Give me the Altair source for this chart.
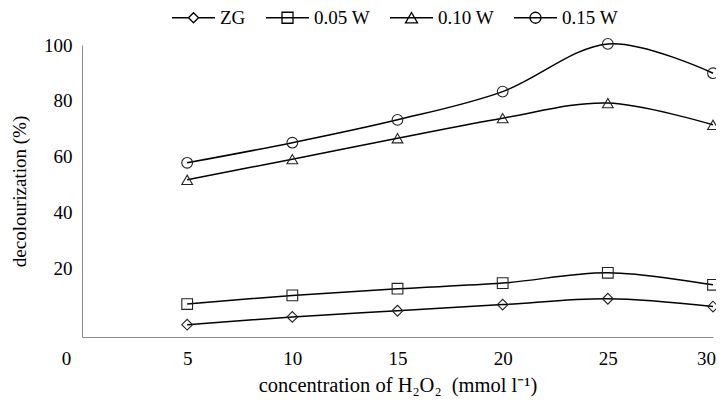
import altair as alt
import pandas as pd

conc = [5, 10, 15, 20, 25, 30]
series_names = ["ZG", "0.05 W", "0.10 W", "0.15 W"]
zg = [-0.2, 2.6, 4.8, 7.0, 9.1, 6.3]
w005 = [7.2, 10.3, 12.7, 14.7, 18.4, 14.1]
w010 = [51.7, 59.1, 66.6, 73.8, 79.2, 71.4]
w015 = [57.8, 65.0, 73.2, 83.3, 100.4, 89.9]
x_ticks = [0, 5, 10, 15, 20, 25, 30]
y_ticks = [20, 40, 60, 80, 100]

marker_shapes = ["diamond", "square", "triangle-up", "circle"]
legend_shapes = [
    "M-1,0L-0.233,0M0.233,0L1,0M-0.233,0L0,-0.233L0.233,0L0,0.233Z",
    "M-1,0L1,0M-0.256,-0.256L0.256,-0.256L0.256,0.256L-0.256,0.256Z",
    "M-1,0L1,0M0,-0.242L0.279,0.242L-0.279,0.242Z",
    "M-1,0L1,0M0.256,0A0.256,0.256,0,1,1,-0.256,0A0.256,0.256,0,1,1,0.256,0Z",
]

rows = []
for name, vals in zip(series_names, [zg, w005, w010, w015]):
    for c, v in zip(conc, vals):
        rows.append({"series": name, "conc": c, "value": v})
df = pd.DataFrame(rows)

FONT = "Liberation Serif"
AX = "#8c8c8c"

x_enc = alt.X(
    "conc:Q",
    scale=alt.Scale(domain=[0, 30], nice=False),
    axis=alt.Axis(
        values=x_ticks,
        title="concentration of H₂O₂\u00a0\u00a0(mmol l⁻¹)",
        grid=False,
        ticks=False,
        tickSize=0,
        domainColor=AX,
        domainWidth=1,
        labelFont=FONT,
        labelFontSize=19,
        labelColor="black",
        labelPadding=12,
        labelFlush=False,
        labelOverlap=False,
        labelOffset={
            "condition": [
                {"test": "datum.value === 0", "value": -16},
                {"test": "datum.value === 30", "value": -7},
            ],
            "value": 0,
        },
        titleFont=FONT,
        titleFontSize=20.5,
        titleFontWeight="normal",
        titleColor="black",
        titlePadding=7,
    ),
)
y_enc = alt.Y(
    "value:Q",
    scale=alt.Scale(domain=[-4.6, 100], nice=False, zero=False),
    axis=alt.Axis(
        values=y_ticks,
        title="decolourization (%)",
        grid=False,
        ticks=False,
        tickSize=0,
        domainColor=AX,
        domainWidth=1,
        labelFont=FONT,
        labelFontSize=19,
        labelColor="black",
        labelPadding=10,
        labelFlush=False,
        titleFont=FONT,
        titleFontSize=19,
        titleFontWeight="normal",
        titleColor="black",
        titlePadding=14,
    ),
)

base = alt.Chart(df)

lines = base.mark_line(interpolate="cardinal", color="black", strokeWidth=1.5).encode(
    x=x_enc, y=y_enc, detail="series:N", order="conc:Q"
)

points = base.mark_point(filled=False, color="#222222", strokeWidth=1.1, size=115, opacity=1).encode(
    x="conc:Q",
    y="value:Q",
    shape=alt.Shape("series:N", scale=alt.Scale(domain=series_names, range=marker_shapes), legend=None),
)

legend_layer = base.mark_point(filled=False, color="black", size=0).encode(
    x="conc:Q",
    y="value:Q",
    shape=alt.Shape(
        "series:N",
        scale=alt.Scale(domain=series_names, range=legend_shapes),
        legend=alt.Legend(
            title=None,
            orient="none",
            legendX=89,
            legendY=-50,
            direction="horizontal",
            columns=4,
            symbolSize=1849,
            symbolStrokeWidth=1.3,
            symbolStrokeColor="black",
            symbolFillColor="transparent",
            symbolOpacity=1,
            labelFont=FONT,
            labelFontSize=19,
            labelColor="black",
            labelOffset=4,
            columnPadding=17,
        ),
    ),
)

chart = (
    alt.layer(lines, points, legend_layer)
    .resolve_scale(shape="independent")
    .properties(
        width=631,
        height=292,
        autosize=alt.AutoSizeParams(type="none"),
        padding={"left": 74, "top": 37, "right": 3, "bottom": 68},
        background="white",
    )
    .configure_view(stroke=None)
)

chart.save("out.html", embed_options={"renderer": "svg", "actions": False})
